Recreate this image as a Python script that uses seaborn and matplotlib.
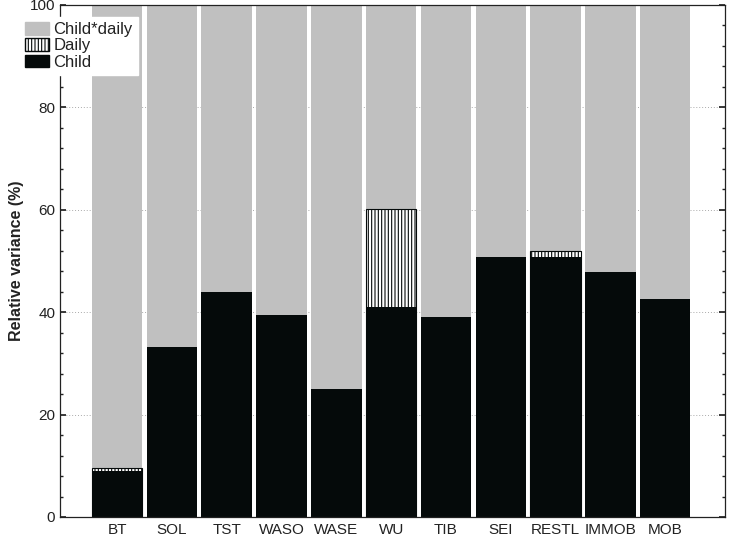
import matplotlib
matplotlib.use("Agg")
import matplotlib.pyplot as plt
import seaborn as sns
import pandas as pd
import numpy as np
from matplotlib.patches import Patch
from matplotlib.ticker import MultipleLocator

categories = ["BT", "SOL", "TST", "WASO", "WASE", "WU", "TIB", "SEI", "RESTL", "IMMOB", "MOB"]
child = [9.0, 33.3, 44.0, 39.5, 25.0, 41.0, 39.0, 50.8, 50.8, 47.8, 42.6]
daily = [0.6, 0.0, 0.0, 0.0, 0.0, 19.2, 0.0, 0.0, 1.2, 0.0, 0.0]
child_daily = [100 - c - d for c, d in zip(child, daily)]

sns.set_theme(style="white")
plt.rcParams['font.family'] = ['Liberation Sans', 'DejaVu Sans']
plt.rcParams['hatch.linewidth'] = 0.8

df = pd.DataFrame({"cat": categories, "child": child, "daily": daily, "cd": child_daily})
df["lvl2"] = df["child"] + df["daily"]
df["lvl3"] = df["lvl2"] + df["cd"]

W, H = 729, 540
fig = plt.figure(figsize=(W / 100, H / 100), dpi=100)
ax = fig.add_axes([60 / W, 1 - 517 / H, (725 - 60) / W, (517 - 5) / H])

grey = "#c0c0c0"
black = "#050a0a"
w = 0.92
sns.barplot(data=df, x="cat", y="lvl3", color=grey, width=w, saturation=1, ax=ax, linewidth=0)
sns.barplot(data=df[df["daily"] > 0], x="cat", y="lvl2", order=categories, color="white", width=w,
            saturation=1, ax=ax, edgecolor=black, linewidth=0.8, hatch="|||||")
sns.barplot(data=df, x="cat", y="child", color=black, width=w, saturation=1, ax=ax, linewidth=0)

ax.set_xlim(-1.04, 11.09)
ax.set_ylim(0, 100)
ax.yaxis.set_major_locator(MultipleLocator(20))
ax.yaxis.set_minor_locator(MultipleLocator(4))
ax.grid(axis="y", which="major", linestyle=(0, (1, 2)), color="#aaaaaa", linewidth=0.7)
ax.set_axisbelow(True)
for s in ax.spines.values():
    s.set_visible(True)
    s.set_color("#222222")
    s.set_linewidth(0.9)
ax.tick_params(axis="both", which="both", direction="in", top=True, right=True, bottom=True, left=True,
               colors="#222222", labelcolor="#222222", labelsize=11)
ax.tick_params(axis="both", which="major", length=4)
ax.tick_params(axis="y", which="minor", length=2.5)
ax.tick_params(axis="x", pad=4)
ax.set_xlabel("")
ax.set_ylabel("Relative variance (%)", fontsize=11.5, fontweight="bold", color="#222222")

handles = [Patch(facecolor=grey, edgecolor=grey, label="Child*daily"),
           Patch(facecolor="white", edgecolor=black, hatch="|||||", label="Daily"),
           Patch(facecolor=black, edgecolor=black, label="Child")]
leg = fig.legend(handles=handles, loc="upper left", bbox_to_anchor=(20 / W, 1 - 17 / H),
                 frameon=True, fancybox=False, edgecolor="white", facecolor="white", framealpha=1,
                 fontsize=12, handlelength=1.45, handleheight=0.78, handletextpad=0.25,
                 labelspacing=0.08, borderpad=0.3, borderaxespad=0)
for t in leg.get_texts():
    t.set_color("#222222")

fig.savefig("out.png", dpi=100)
